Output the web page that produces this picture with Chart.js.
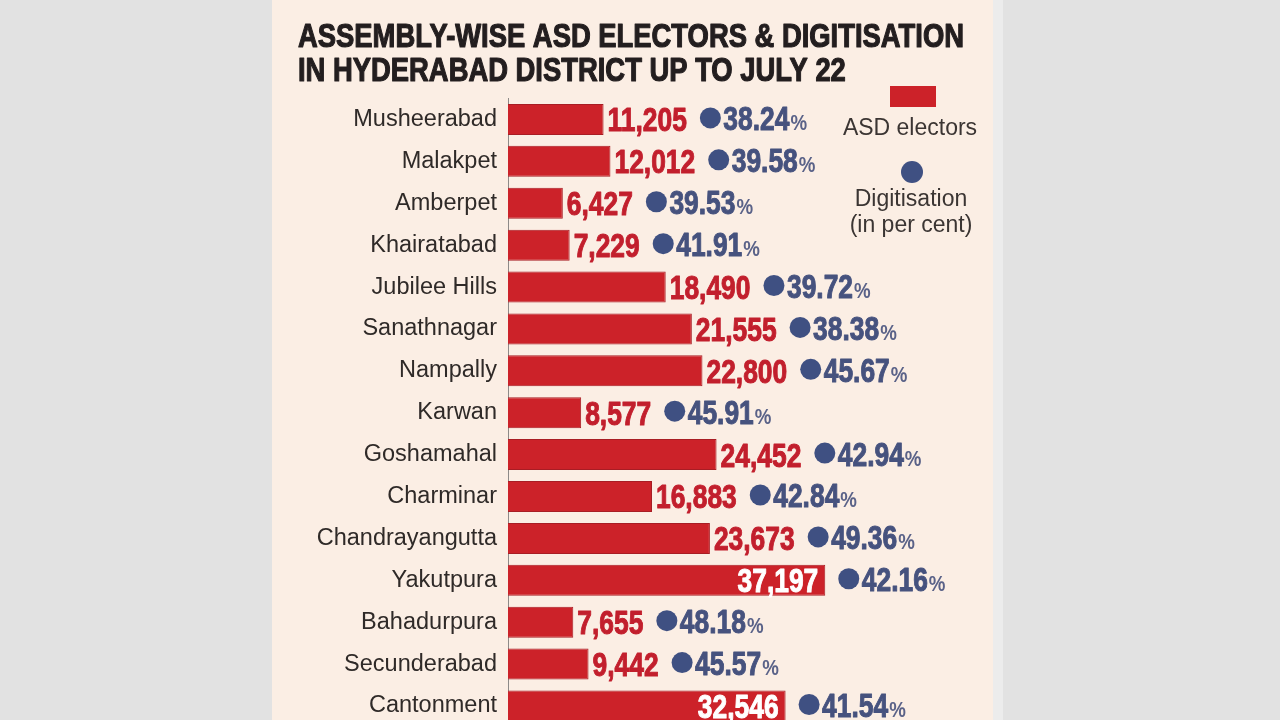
<!DOCTYPE html>
<html>
<head>
<meta charset="utf-8">
<script src="https://cdn.jsdelivr.net/npm/chart.js@4/dist/chart.umd.min.js"></script>
<style>
  html, body { margin: 0; padding: 0; width: 1280px; height: 720px; overflow: hidden; background: #e2e2e2; }
  #panel { position: absolute; left: 272px; top: 0; width: 721px; height: 720px; background: #fbeee4; }
  #edge { position: absolute; left: 993px; top: 0; width: 10px; height: 720px; background: #ececec; }
  #c { position: absolute; left: 0; top: 0; }
</style>
</head>
<body>
<div id="panel"></div>
<div id="edge"></div>
<canvas id="c" width="1280" height="752"></canvas>
<script>
// --- data ---
const constituencies = ['Musheerabad', 'Malakpet', 'Amberpet', 'Khairatabad', 'Jubilee Hills',
    'Sanathnagar', 'Nampally', 'Karwan', 'Goshamahal', 'Charminar', 'Chandrayangutta',
    'Yakutpura', 'Bahadurpura', 'Secunderabad', 'Cantonment'];
const asdElectors = [11205, 12012, 6427, 7229, 18490, 21555, 22800, 8577, 24452, 16883,
    23673, 37197, 7655, 9442, 32546];
const digitisation = [38.24, 39.58, 39.53, 41.91, 39.72, 38.38, 45.67, 45.91, 42.94, 42.84,
    49.36, 42.16, 48.18, 45.57, 41.54];
const titleLines = ['ASSEMBLY-WISE ASD ELECTORS & DIGITISATION', 'IN HYDERABAD DISTRICT UP TO JULY 22'];

const RED = '#cc2229';
const LABEL_RED = '#c21f2d';
const DOT = '#3f5082';
const PCT = '#46527e';
const INK = '#2f2a28';
const SANS = '"Liberation Sans", Arial, sans-serif';

// draws text squeezed horizontally (condensed look), returns drawn width
function squeezed(ctx, text, x, y, font, color, sx, align, heavy) {
    ctx.save();
    ctx.font = font;
    ctx.fillStyle = color;
    ctx.textBaseline = 'alphabetic';
    const w = ctx.measureText(text).width * sx;
    let left = x;
    if (align === 'right') left = x - w;
    else if (align === 'center') left = x - w / 2;
    ctx.translate(left, y);
    ctx.scale(sx, 1);
    ctx.textAlign = 'left';
    ctx.fillText(text, 0, 0);
    if (heavy) {
        // thicken strokes a bit, the print font is a black weight
        ctx.strokeStyle = color;
        ctx.lineWidth = heavy;
        ctx.lineJoin = 'round';
        ctx.strokeText(text, 0, 0);
    }
    ctx.restore();
    return w;
}

function dot(ctx, x, y, r) {
    ctx.beginPath();
    ctx.arc(x, y, r, 0, Math.PI * 2);
    ctx.fillStyle = DOT;
    ctx.fill();
}

const decorPlugin = {
    id: 'decor',
    afterDatasetsDraw(chart) {
        const ctx = chart.ctx;

        // title, fitted to the reference width
        ctx.save();
        ctx.font = 'bold 34px ' + SANS;
        const sx = 666 / ctx.measureText(titleLines[0]).width;
        ctx.restore();
        squeezed(ctx, titleLines[0], 298, 47, 'bold 34px ' + SANS, '#231e1f', sx, 'left', 1.2);
        squeezed(ctx, titleLines[1], 298, 81, 'bold 34px ' + SANS, '#231e1f', sx, 'left', 1.2);

        // value labels, dots and percentages
        const meta = chart.getDatasetMeta(0);
        const numFont = 'bold 33px ' + SANS;
        meta.data.forEach((bar, i) => {
            const txt = asdElectors[i].toLocaleString('en-US');
            const base = bar.y + 12;
            let end;
            if (asdElectors[i] > 30000) {
                squeezed(ctx, txt, bar.x - 7, base, numFont, '#ffffff', 0.8, 'right', 1);
                end = bar.x;
            } else {
                const w = squeezed(ctx, txt, bar.x + 4, base, numFont, LABEL_RED, 0.8, 'left', 1);
                end = bar.x + 4 + w;
            }
            const cx = end + 13 + 10.5;
            dot(ctx, cx, bar.y - 1.5, 10.5);
            const pw = squeezed(ctx, digitisation[i].toFixed(2), cx + 13, base - 1, numFont, PCT, 0.8, 'left', 1);
            squeezed(ctx, '%', cx + 13 + pw + 1, base - 1, 'bold 22px ' + SANS, '#5a6288', 0.85, 'left');
        });

        // legend
        ctx.save();
        ctx.fillStyle = RED;
        ctx.fillRect(890, 86, 46, 21);
        ctx.restore();
        const legFont = '23px ' + SANS;
        squeezed(ctx, 'ASD electors', 910, 135, legFont, '#3b3533', 1, 'center');
        dot(ctx, 912, 172, 11);
        squeezed(ctx, 'Digitisation', 911, 206, legFont, '#3b3533', 1, 'center');
        squeezed(ctx, '(in per cent)', 911, 232, legFont, '#3b3533', 1, 'center');
    }
};

new Chart(document.getElementById('c'), {
    type: 'bar',
    data: {
        labels: constituencies,
        datasets: [{
            label: 'ASD electors',
            data: asdElectors,
            backgroundColor: RED,
            borderColor: '#a81d24',
            borderWidth: 1,
            barPercentage: 0.74,
            categoryPercentage: 1
        }]
    },
    options: {
        indexAxis: 'y',
        responsive: false,
        animation: false,
        layout: { padding: { top: 98.5, bottom: 0, left: 0, right: 337 } },
        scales: {
            x: { display: false, min: 0, max: 51000 },
            y: {
                grid: { display: false, drawTicks: false },
                border: { display: true, color: '#8d8a88', width: 1 },
                ticks: { color: INK, font: { family: SANS, size: 23.5 }, padding: 11 },
                afterFit: (scale) => { scale.width = 508; }
            }
        },
        plugins: {
            legend: { display: false },
            tooltip: { enabled: false }
        }
    },
    plugins: [decorPlugin]
});
</script>
</body>
</html>
